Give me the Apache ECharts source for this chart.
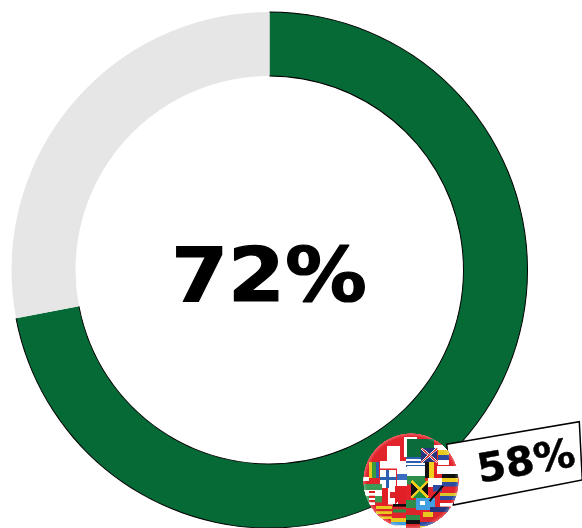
<!DOCTYPE html>
<html>
<head>
<meta charset="utf-8">
<style>html,body{margin:0;padding:0;background:#fff}#chart{width:582px;height:528px}</style>
<script src="https://cdn.jsdelivr.net/npm/echarts@6/dist/echarts.min.js"></script>
</head>
<body>
<div id="chart"></div>
<script>
const mainShare = 72;
const remainder = 28;
const worldShare = 58;
const ringGreen = '#066a36';
const ringGrey = '#e6e6e6';

// Flag patches on the globe badge: x, y, width, height in a 288px square,
// then the stripe colours, top to bottom.
const flagPatches = [
  [72,38,40,46,'#ffffff'],
  [50,84,80,22,'#ffffff'],
  [122,12,40,60,'#ffffff'],
  [132,18,46,54,'#0b6b3a'],
  [178,18,34,34,'#0b6b3a'],
  [212,24,40,26,'#e01f26','#ffffff'],
  [128,72,84,36,'#2d5fb0','#ffffff','#2d5fb0','#ffffff','#2d5fb0','#ffffff'],
  [175,46,48,42,'#27357f'],
  [224,50,34,46,'#e8c81e','#2b4aa0','#ffffff'],
  [18,88,10,46,'#e8c81e'],
  [28,88,10,46,'#3b9a3a'],
  [38,88,10,46,'#2d5fb0'],
  [52,112,48,52,'#ffffff'],
  [102,104,30,54,'#ffffff','#3a6cc0','#ffffff'],
  [132,100,56,30,'#ffffff'],
  [132,130,54,24,'#2f8d4a'],
  [186,88,13,46,'#111111'],
  [199,88,13,46,'#f2cf1e'],
  [212,88,10,46,'#e01f26'],
  [222,98,62,24,'#ffffff'],
  [196,136,40,26,'#ffffff'],
  [210,155,28,20,'#2b4aa0'],
  [236,122,48,38,'#111111','#f2cf1e','#2b4aa0'],
  [0,132,18,24,'#ffffff','#e01f26'],
  [4,154,52,54,'#3b9a55','#ffffff','#3b9a55'],
  [58,164,18,50,'#e01f26'],
  [76,164,30,50,'#ffffff'],
  [106,160,22,50,'#e01f26'],
  [18,174,18,48,'#e01f26','#ffffff','#e01f26','#ffffff','#e01f26','#ffffff','#e01f26'],
  [160,194,56,36,'#3f9fe0'],
  [232,180,56,40,'#d7c52a','#2b4aa0','#e01f26','#ffffff'],
  [40,220,46,38,'#e8c81e','#d8262a','#e8c81e','#d8262a','#e8c81e'],
  [90,212,40,26,'#111111','#d8262a','#2f8d4a'],
  [130,200,30,52,'#2f8d4a','#d8262a'],
  [200,222,58,32,'#27357f','#d8262a'],
  [180,236,30,34,'#e8c81e','#d8262a'],
  [128,246,44,42,'#2f8d4a','#111111','#d8262a'],
  [84,256,44,32,'#e8c81e','#3f9fe0','#ffffff'],
  [172,268,44,20,'#2b4aa0','#e8c81e']
];

function paintGlobe() {
  const size = 288, c = size / 2;
  const canvas = document.createElement('canvas');
  canvas.width = canvas.height = size;
  const g = canvas.getContext('2d');
  g.beginPath();
  g.arc(c, c, c - 1, 0, Math.PI * 2);
  g.clip();
  g.fillStyle = '#e2232b';
  g.fillRect(0, 0, size, size);

  flagPatches.forEach(p => {
    const colours = p.slice(4);
    const h = p[3] / colours.length;
    colours.forEach((col, i) => {
      g.fillStyle = col;
      g.fillRect(p[0], p[1] + i * h, p[2], h + 0.5);
    });
  });

  // Jamaica: green field, black side triangles, yellow saltire
  g.fillStyle = '#1f8f3e';
  g.fillRect(145, 144, 50, 50);
  g.fillStyle = '#111111';
  g.beginPath(); g.moveTo(145,144); g.lineTo(170,169); g.lineTo(145,194); g.fill();
  g.beginPath(); g.moveTo(195,144); g.lineTo(170,169); g.lineTo(195,194); g.fill();
  g.strokeStyle = '#f2cf1e'; g.lineWidth = 8;
  g.beginPath(); g.moveTo(145,144); g.lineTo(195,194); g.moveTo(195,144); g.lineTo(145,194); g.stroke();

  // Union flag crosses
  g.strokeStyle = '#ffffff'; g.lineWidth = 7;
  g.beginPath(); g.moveTo(175,46); g.lineTo(223,88); g.moveTo(223,46); g.lineTo(175,88); g.stroke();
  g.strokeStyle = '#d8262a'; g.lineWidth = 3;
  g.beginPath(); g.moveTo(175,46); g.lineTo(223,88); g.moveTo(223,46); g.lineTo(175,88); g.stroke();

  // Nordic cross, maple-leaf square, dark diagonal
  g.fillStyle = '#2b5fb0';
  g.fillRect(68, 112, 11, 52); g.fillRect(52, 132, 48, 10);
  g.fillStyle = '#d8262a';
  g.fillRect(82, 178, 16, 18);
  g.fillStyle = '#e01f26';
  g.beginPath(); g.moveTo(96,158); g.lineTo(130,184); g.lineTo(96,214); g.fill();
  g.strokeStyle = '#0a0a0a'; g.lineWidth = 6;
  g.beginPath(); g.moveTo(200,204); g.lineTo(240,159); g.stroke();
  g.fillStyle = '#ffffff';
  g.fillRect(172, 204, 14, 12);

  // Pale rim so the sphere fades out at its edge
  const rim = g.createRadialGradient(c, c, c * 0.92, c, c, c);
  rim.addColorStop(0, 'rgba(255,255,255,0)');
  rim.addColorStop(1, 'rgba(255,255,255,0.3)');
  g.fillStyle = rim;
  g.fillRect(0, 0, size, size);
  return canvas;
}

const centre = [269.5, 270];
const outerR = 258, innerR = 194;

// Hairline that follows only the green slice, leaving its straight ends open
const outline = r => ({
  type: 'pie', silent: true, animation: false, startAngle: 90, clockwise: true,
  center: centre, radius: [r - 0.5, r + 0.5], label: { show: false }, labelLine: { show: false },
  emphasis: { disabled: true },
  data: [
    { value: mainShare, itemStyle: { color: '#000000' } },
    { value: remainder, itemStyle: { color: 'rgba(0,0,0,0)' } }
  ]
});

const chart = echarts.init(document.getElementById('chart'), null, { renderer: 'canvas' });
chart.setOption({
  animation: false,
  series: [
    {
      type: 'pie', silent: true, startAngle: 90, clockwise: true,
      center: centre, radius: [innerR, outerR],
      label: { show: false }, labelLine: { show: false },
      emphasis: { disabled: true },
      data: [
        { value: mainShare, itemStyle: { color: ringGreen } },
        { value: remainder, itemStyle: { color: ringGrey } }
      ]
    },
    outline(outerR),
    outline(innerR)
  ],
  graphic: [
    {
      type: 'text', z: 10, position: [269, 282], scale: [1.09, 1],
      style: {
        text: mainShare + '%', fill: '#000', stroke: '#000', lineWidth: 1.2,
        align: 'center', verticalAlign: 'middle',
        font: 'bold 75px "DejaVu Sans"'
      }
    },
    {
      type: 'polygon', z: 11,
      shape: { points: [[446.7,444.3],[579.3,421.7],[582.3,480],[453.3,505]] },
      style: { fill: '#fff', stroke: '#000', lineWidth: 1.5 }
    },
    {
      type: 'text', z: 12, position: [526.5, 464], rotation: 10 * Math.PI / 180, scale: [1.03, 1],
      style: {
        text: worldShare + '%', fill: '#000', stroke: '#000', lineWidth: 0.5,
        align: 'center', verticalAlign: 'middle',
        font: 'bold 40px "DejaVu Sans"'
      }
    },
    {
      type: 'image', z: 13, position: [363, 433],
      style: { image: paintGlobe(), x: 0, y: 0, width: 96, height: 96 }
    }
  ]
});
</script>
</body>
</html>
